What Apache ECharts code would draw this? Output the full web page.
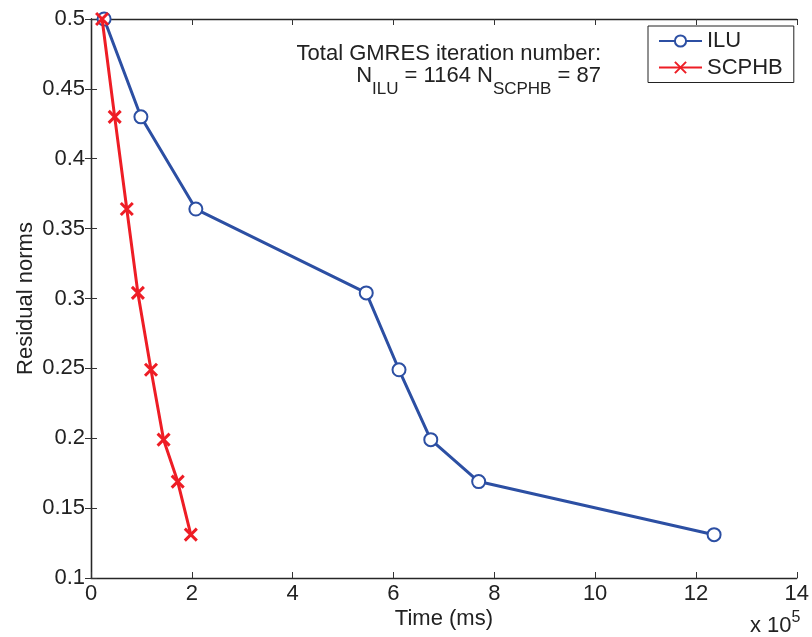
<!DOCTYPE html>
<html>
<head>
<meta charset="utf-8">
<script src="https://cdn.jsdelivr.net/npm/echarts@6/dist/echarts.min.js"></script>
<style>
html,body{margin:0;padding:0;background:#fff;}
#chart{width:812px;height:637px;}
</style>
</head>
<body>
<div id="chart"></div>
<script>
// Time in units of 1e5 ms
const iluTime = [0.26, 0.99, 2.08, 5.46, 6.11, 6.74, 7.69, 12.36];
const iluNorm = [0.5, 0.43, 0.364, 0.304, 0.249, 0.199, 0.169, 0.131];
const scphbTime = [0.22, 0.47, 0.71, 0.93, 1.19, 1.44, 1.72, 1.98];
const scphbNorm = [0.5, 0.43, 0.364, 0.304, 0.249, 0.199, 0.169, 0.131];
const seriesNames = ['ILU', 'SCPHB'];
const yTicks = ['0.1', '0.15', '0.2', '0.25', '0.3', '0.35', '0.4', '0.45', '0.5'];

const FONT = 'Liberation Sans, Arial, Helvetica, sans-serif';
const TXT = '#222';
const BLUE = '#2c4fa3';
const RED = '#ee1d25';

const chart = echarts.init(document.getElementById('chart'));

function pairs(xs, ys) { return xs.map((x, i) => [x, ys[i]]); }

const axisLine = { show: true, lineStyle: { color: '#262626', width: 1.3 } };
const axisTick = { show: true, inside: true, length: 6, lineStyle: { color: '#333', width: 1 } };

const option = {
  animation: false,
  backgroundColor: '#fff',
  textStyle: { fontFamily: FONT },
  grid: { left: 91, right: 13, top: 19, bottom: 59 },
  legend: {
    data: seriesNames,
    orient: 'vertical',
    left: 648,
    top: 26,
    padding: [4, 11, 4, 10],
    itemGap: 4.5,
    itemWidth: 43,
    itemHeight: 14,
    borderColor: '#222',
    borderWidth: 1,
    backgroundColor: '#fff',
    textStyle: { fontSize: 22, color: TXT, fontFamily: FONT }
  },
  xAxis: [
    {
      type: 'value', position: 'bottom', min: 0, max: 14, interval: 2,
      name: 'Time (ms)', nameLocation: 'middle', nameGap: 30, nameMoveOverlap: false,
      nameTextStyle: { fontSize: 22, color: TXT, fontFamily: FONT },
      axisLine: axisLine, axisTick: axisTick,
      axisLabel: { fontSize: 22, color: TXT, margin: 5, fontFamily: FONT },
      splitLine: { show: false }
    },
    {
      type: 'value', position: 'top', min: 0, max: 14, interval: 2,
      axisLine: axisLine, axisTick: axisTick,
      axisLabel: { show: false }, splitLine: { show: false }
    }
  ],
  yAxis: [
    {
      type: 'value', position: 'left', min: 0.1, max: 0.5, interval: 0.05,
      name: 'Residual norms', nameLocation: 'middle', nameGap: 54, nameRotate: 90,
      nameMoveOverlap: false,
      nameTextStyle: { fontSize: 22, color: TXT, fontFamily: FONT },
      axisLine: axisLine, axisTick: axisTick,
      axisLabel: { fontSize: 22, color: TXT, margin: 6, fontFamily: FONT,
        formatter: v => { const s = yTicks.find(t => Math.abs(parseFloat(t) - v) < 1e-9); return s || ''; } },
      splitLine: { show: false }
    },
    {
      type: 'value', position: 'right', min: 0.1, max: 0.5, interval: 0.05,
      axisLine: axisLine, axisTick: axisTick,
      axisLabel: { show: false }, splitLine: { show: false }
    }
  ],
  series: [
    {
      name: seriesNames[0], type: 'line', data: pairs(iluTime, iluNorm),
      xAxisIndex: 0, yAxisIndex: 0,
      symbol: 'emptyCircle', symbolSize: 13,
      lineStyle: { color: BLUE, width: 3 },
      itemStyle: { color: BLUE, borderColor: BLUE, borderWidth: 3 },
      z: 3
    },
    {
      name: seriesNames[1], type: 'line', data: pairs(scphbTime, scphbNorm),
      xAxisIndex: 0, yAxisIndex: 0,
      symbol: 'path://M0,0L10,10M10,0L0,10', symbolSize: 12,
      lineStyle: { color: RED, width: 3 },
      itemStyle: { color: RED, borderColor: RED, borderWidth: 3 },
      z: 4
    }
  ],
  graphic: [
    {
      type: 'text', x: 601, y: 42.5, z: 10,
      style: {
        text: '{n|Total GMRES iteration number:}\n{n|N}{s|ILU}{n| = 1164 N}{s|SCPHB}{n| = 87}',
        align: 'right', verticalAlign: 'top',
        fontFamily: FONT, fill: TXT,
        rich: {
          n: { fontSize: 22, lineHeight: 22, verticalAlign: 'top', fill: TXT, fontFamily: FONT },
          s: { fontSize: 17, lineHeight: 17, verticalAlign: 'top', padding: [16, 0, 0, 0], fill: TXT, fontFamily: FONT }
        }
      }
    },
    {
      type: 'text', x: 750, y: 610, z: 10,
      style: {
        text: '{a|x 10}{b|5}',
        align: 'left', verticalAlign: 'top',
        fontFamily: FONT, fill: TXT,
        rich: {
          a: { fontSize: 22, lineHeight: 22, verticalAlign: 'top', padding: [5, 0, 0, 0], fill: TXT, fontFamily: FONT },
          b: { fontSize: 16, lineHeight: 16, verticalAlign: 'top', fill: TXT, fontFamily: FONT }
        }
      }
    }
  ]
};
chart.setOption(option);
</script>
</body>
</html>
